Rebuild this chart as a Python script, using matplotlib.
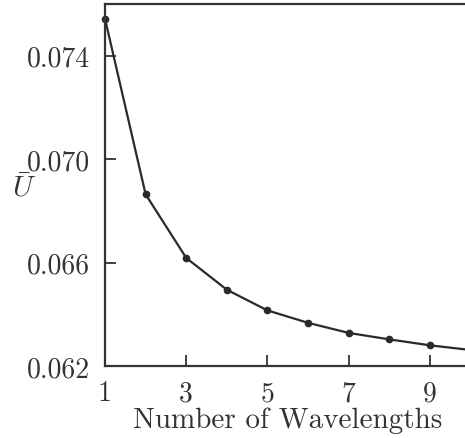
import matplotlib
matplotlib.use('Agg')
import matplotlib.pyplot as plt

plt.rcParams['font.family'] = 'serif'
plt.rcParams['font.serif'] = ['cmr10']
plt.rcParams['mathtext.fontset'] = 'cm'
plt.rcParams['axes.formatter.use_mathtext'] = True

# number of wavelengths and mean velocity
wavelengths = [1, 2, 3, 4, 5, 6, 7, 8, 9, 10]
u_bar = [0.07543, 0.06864, 0.06618, 0.06495, 0.06415, 0.06367, 0.06328, 0.06303, 0.06280, 0.06262]

xticks = [1, 3, 5, 7, 9]
yticks = [0.062, 0.066, 0.070, 0.074]
ytick_labels = ['0.062', '0.066', '0.070', '0.074']

fig = plt.figure(figsize=(4.65, 4.39), dpi=100)
ax = fig.add_axes([0.2258, 0.164, 0.786, 0.8246])

ax.plot(wavelengths, u_bar, color='#2a2a2a', linewidth=1.6,
        marker='o', markersize=4.5, clip_on=False)

ax.set_xlim(1, 10)
ax.set_ylim(0.062, 0.076)
ax.set_xticks(xticks)
ax.set_xticklabels([str(t) for t in xticks])
ax.set_yticks(yticks)
ax.set_yticklabels(ytick_labels)

for s in ax.spines.values():
    s.set_color('#333333')
    s.set_linewidth(1.6)

ax.tick_params(direction='in', length=8, width=1.3, color='#333333',
               labelsize=20, labelcolor='#333333')
ax.tick_params(axis='y', pad=11)
ax.tick_params(axis='x', pad=10)

ax.set_xlabel('Number of Wavelengths', fontsize=21, color='#333333', labelpad=0)
ax.set_ylabel(r'$\bar{U}$', fontsize=21, rotation=0, color='#333333', va='center')
ax.yaxis.set_label_coords(-0.222, 0.494)

fig.savefig('out.png', dpi=100)
